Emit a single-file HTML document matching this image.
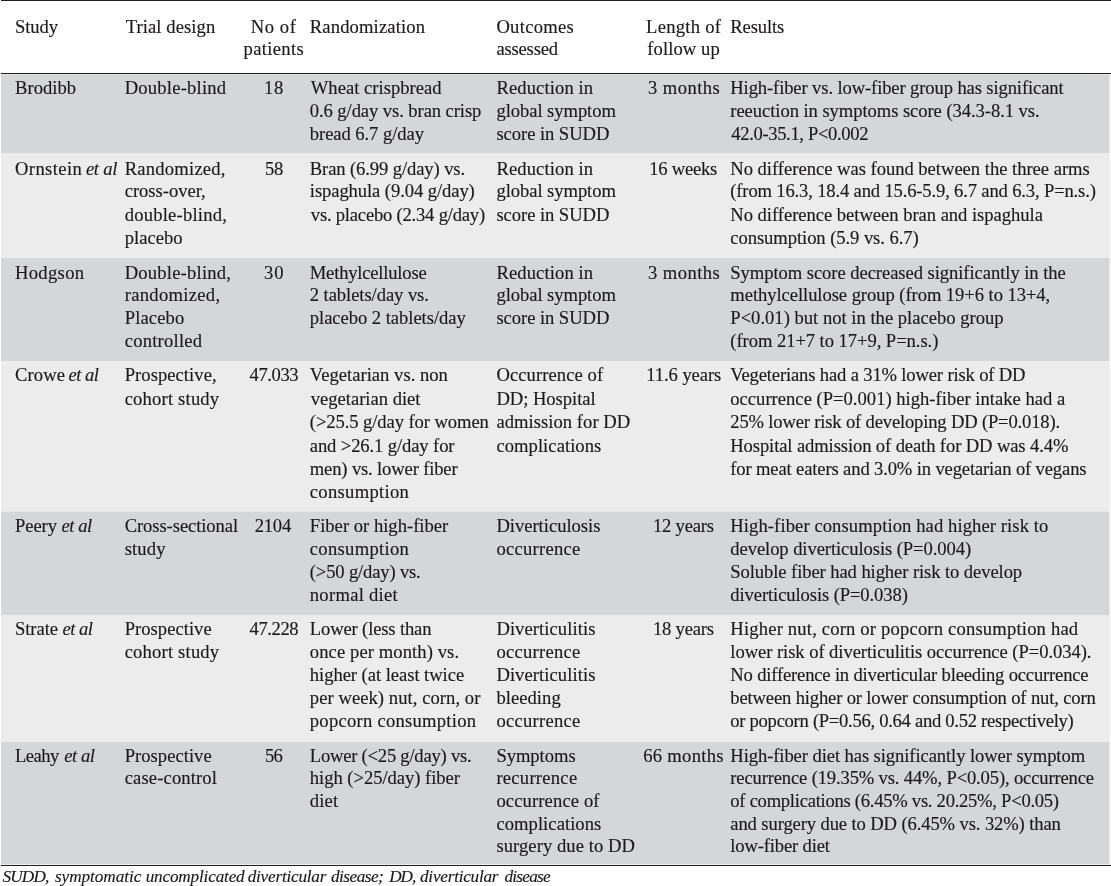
<!DOCTYPE html>
<html lang="en"><head><meta charset="utf-8"><title>Table</title>
<style>
html,body{margin:0;padding:0;background:#fff;}
body{width:1111px;height:886px;position:relative;overflow:hidden;font-family:"Liberation Serif",serif;color:#1c191a;}
.t{position:absolute;white-space:pre;line-height:24px;font-size:18.6px;font-kerning:normal;-webkit-text-stroke:0.15px #1c191a;}
.f{font-size:17.2px;font-style:italic;}
.i{font-style:italic;}
svg{position:absolute;left:0;top:0;}
#tx{position:absolute;left:0;top:0;width:1111px;height:886px;will-change:transform;}
</style></head><body>

<svg width="1111" height="886" viewBox="0 0 1111 886">
<rect x="1" y="74.3" width="1108.6" height="79.2" fill="#d5d6d8"/>
<rect x="1" y="153.5" width="1108.6" height="104.5" fill="#ececed"/>
<rect x="1" y="258" width="1108.6" height="103.10000000000002" fill="#d5d6d8"/>
<rect x="1" y="361.1" width="1108.6" height="150.39999999999998" fill="#ececed"/>
<rect x="1" y="511.5" width="1108.6" height="103.5" fill="#d5d6d8"/>
<rect x="1" y="615" width="1108.6" height="127" fill="#ececed"/>
<rect x="1" y="742" width="1108.6" height="122.39999999999998" fill="#d5d6d8"/>
<rect x="1" y="0" width="1110" height="1" fill="#231f20"/>
<rect x="1" y="73" width="1110" height="1" fill="#231f20"/>
<rect x="1" y="865" width="1110" height="1" fill="#231f20"/>
<rect x="1109.6" y="74" width="1" height="791" fill="#f0f0f1"/>
</svg>
<div id="tx">
<div class="t" style="left:15.0px;top:15px;letter-spacing:-0.1px">Study</div>
<div class="t" style="left:125.7px;top:15px;letter-spacing:0.082px">Trial design</div>
<div class="t" style="left:250.7px;top:15px;letter-spacing:0.6px">No of</div>
<div class="t" style="left:243.6px;top:37px;letter-spacing:0.329px">patients</div>
<div class="t" style="left:309.8px;top:15px;letter-spacing:0.133px">Randomization</div>
<div class="t" style="left:496.4px;top:15px;letter-spacing:0.286px">Outcomes</div>
<div class="t" style="left:496.4px;top:37px;letter-spacing:-0.186px">assessed</div>
<div class="t" style="left:646.1px;top:15px;letter-spacing:0.25px">Length of</div>
<div class="t" style="left:647.3px;top:37px;letter-spacing:0.088px">follow up</div>
<div class="t" style="left:730.3px;top:15px;letter-spacing:-0.15px">Results</div>
<div class="t" style="left:15.0px;top:76px;letter-spacing:0.017px">Brodibb</div>
<div class="t" style="left:15.0px;top:157px;letter-spacing:0.386px">Ornstein</div>
<div class="t i" style="left:85.9px;top:157px;letter-spacing:-0.275px">et al</div>
<div class="t" style="left:15.0px;top:261px;letter-spacing:0.317px">Hodgson</div>
<div class="t" style="left:15.0px;top:363px;letter-spacing:0.125px">Crowe</div>
<div class="t i" style="left:68.4px;top:363px;letter-spacing:-0.475px">et al</div>
<div class="t" style="left:15.0px;top:514px;letter-spacing:-0.1px">Peery</div>
<div class="t i" style="left:61.6px;top:514px;letter-spacing:-0.475px">et al</div>
<div class="t" style="left:15.0px;top:617px;letter-spacing:-0.08px">Strate</div>
<div class="t i" style="left:62.4px;top:617px;letter-spacing:-0.475px">et al</div>
<div class="t" style="left:15.0px;top:744px;letter-spacing:-0.55px">Leahy</div>
<div class="t i" style="left:64.3px;top:744px;letter-spacing:-0.475px">et al</div>
<div class="t" style="left:124.7px;top:76px;letter-spacing:0.209px">Double-blind</div>
<div class="t" style="left:124.7px;top:157px;letter-spacing:0.22px">Randomized,</div>
<div class="t" style="left:124.7px;top:179px;letter-spacing:-0.03px">cross-over,</div>
<div class="t" style="left:124.7px;top:203px;letter-spacing:0.208px">double-blind,</div>
<div class="t" style="left:124.7px;top:226px;letter-spacing:0.017px">placebo</div>
<div class="t" style="left:124.7px;top:261px;letter-spacing:0.2px">Double-blind,</div>
<div class="t" style="left:124.7px;top:283px;letter-spacing:0.3px">randomized,</div>
<div class="t" style="left:124.7px;top:306px;letter-spacing:0.117px">Placebo</div>
<div class="t" style="left:124.7px;top:329px;letter-spacing:0.222px">controlled</div>
<div class="t" style="left:124.7px;top:363px;letter-spacing:0.045px">Prospective,</div>
<div class="t" style="left:124.7px;top:387px;letter-spacing:0.182px">cohort study</div>
<div class="t" style="left:124.7px;top:514px;letter-spacing:-0.086px">Cross-sectional</div>
<div class="t" style="left:124.7px;top:537px;letter-spacing:0.125px">study</div>
<div class="t" style="left:124.7px;top:617px;letter-spacing:0.02px">Prospective</div>
<div class="t" style="left:124.7px;top:640px;letter-spacing:0.182px">cohort study</div>
<div class="t" style="left:124.7px;top:744px;letter-spacing:0.02px">Prospective</div>
<div class="t" style="left:124.7px;top:766px;letter-spacing:0.127px">case-control</div>
<div class="t" style="left:264.1px;top:76px;letter-spacing:0.6px">18</div>
<div class="t" style="left:265.1px;top:157px;letter-spacing:-0.4px">58</div>
<div class="t" style="left:264.1px;top:261px;letter-spacing:0.8px">30</div>
<div class="t" style="left:249.5px;top:363px;letter-spacing:-0.4px">47.033</div>
<div class="t" style="left:254.7px;top:514px;letter-spacing:-0.233px">2104</div>
<div class="t" style="left:249.5px;top:617px;letter-spacing:-0.4px">47.228</div>
<div class="t" style="left:265.0px;top:744px;letter-spacing:-0.9px">56</div>
<div class="t" style="left:310.8px;top:76px;letter-spacing:0.007px">Wheat crispbread</div>
<div class="t" style="left:309.8px;top:99px;letter-spacing:-0.083px">0.6 g/day vs. bran crisp</div>
<div class="t" style="left:309.8px;top:122px;letter-spacing:-0.071px">bread 6.7 g/day</div>
<div class="t" style="left:309.8px;top:157px;letter-spacing:-0.11px">Bran (6.99 g/day) vs.</div>
<div class="t" style="left:309.8px;top:179px;letter-spacing:-0.086px">ispaghula (9.04 g/day)</div>
<div class="t" style="left:310.8px;top:203px;letter-spacing:-0.213px">vs. placebo (2.34 g/day)</div>
<div class="t" style="left:309.8px;top:261px;letter-spacing:-0.207px">Methylcellulose</div>
<div class="t" style="left:309.8px;top:283px;letter-spacing:-0.075px">2 tablets/day vs.</div>
<div class="t" style="left:309.8px;top:306px;letter-spacing:-0.05px">placebo 2 tablets/day</div>
<div class="t" style="left:309.8px;top:363px;letter-spacing:0.012px">Vegetarian vs. non</div>
<div class="t" style="left:310.8px;top:387px;letter-spacing:-0.021px">vegetarian diet</div>
<div class="t" style="left:309.8px;top:410px;letter-spacing:-0.086px">(&gt;25.5 g/day for women</div>
<div class="t" style="left:309.8px;top:434px;letter-spacing:-0.117px">and &gt;26.1 g/day for</div>
<div class="t" style="left:309.8px;top:457px;letter-spacing:-0.153px">men) vs. lower fiber</div>
<div class="t" style="left:309.8px;top:480px;letter-spacing:0.29px">consumption</div>
<div class="t" style="left:309.8px;top:514px;letter-spacing:0.006px">Fiber or high-fiber</div>
<div class="t" style="left:309.8px;top:537px;letter-spacing:0.29px">consumption</div>
<div class="t" style="left:309.8px;top:560px;letter-spacing:-0.164px">(&gt;50 g/day) vs.</div>
<div class="t" style="left:309.8px;top:583px;letter-spacing:0.27px">normal diet</div>
<div class="t" style="left:309.8px;top:617px;letter-spacing:-0.147px">Lower (less than</div>
<div class="t" style="left:309.8px;top:640px;letter-spacing:0.089px">once per month) vs.</div>
<div class="t" style="left:309.8px;top:663px;letter-spacing:-0.048px">higher (at least twice</div>
<div class="t" style="left:309.8px;top:686px;letter-spacing:0.055px">per week) nut, corn, or</div>
<div class="t" style="left:309.8px;top:709px;letter-spacing:0.256px">popcorn consumption</div>
<div class="t" style="left:309.8px;top:744px;letter-spacing:-0.23px">Lower (&lt;25 g/day) vs.</div>
<div class="t" style="left:309.8px;top:766px;letter-spacing:-0.042px">high (&gt;25/day) fiber</div>
<div class="t" style="left:309.8px;top:789px;letter-spacing:0.167px">diet</div>
<div class="t" style="left:496.4px;top:76px;letter-spacing:0.109px">Reduction in</div>
<div class="t" style="left:496.4px;top:99px;letter-spacing:-0.062px">global symptom</div>
<div class="t" style="left:496.4px;top:122px;letter-spacing:-0.058px">score in SUDD</div>
<div class="t" style="left:496.4px;top:157px;letter-spacing:0.109px">Reduction in</div>
<div class="t" style="left:496.4px;top:179px;letter-spacing:-0.062px">global symptom</div>
<div class="t" style="left:496.4px;top:203px;letter-spacing:-0.058px">score in SUDD</div>
<div class="t" style="left:496.4px;top:261px;letter-spacing:0.109px">Reduction in</div>
<div class="t" style="left:496.4px;top:283px;letter-spacing:-0.062px">global symptom</div>
<div class="t" style="left:496.4px;top:306px;letter-spacing:-0.058px">score in SUDD</div>
<div class="t" style="left:496.4px;top:363px;letter-spacing:0.083px">Occurrence of</div>
<div class="t" style="left:496.4px;top:387px;letter-spacing:-0.036px">DD; Hospital</div>
<div class="t" style="left:496.4px;top:410px;letter-spacing:0.04px">admission for DD</div>
<div class="t" style="left:496.4px;top:434px;letter-spacing:0.05px">complications</div>
<div class="t" style="left:496.4px;top:514px;letter-spacing:-0.023px">Diverticulosis</div>
<div class="t" style="left:496.4px;top:537px;letter-spacing:0.256px">occurrence</div>
<div class="t" style="left:496.4px;top:617px;letter-spacing:0.069px">Diverticulitis</div>
<div class="t" style="left:496.4px;top:640px;letter-spacing:0.256px">occurrence</div>
<div class="t" style="left:496.4px;top:663px;letter-spacing:0.069px">Diverticulitis</div>
<div class="t" style="left:496.4px;top:686px;letter-spacing:0.043px">bleeding</div>
<div class="t" style="left:496.4px;top:709px;letter-spacing:0.256px">occurrence</div>
<div class="t" style="left:496.4px;top:744px;letter-spacing:-0.043px">Symptoms</div>
<div class="t" style="left:496.4px;top:766px;letter-spacing:0.256px">recurrence</div>
<div class="t" style="left:496.4px;top:789px;letter-spacing:0.125px">occurrence of</div>
<div class="t" style="left:496.4px;top:812px;letter-spacing:0.05px">complications</div>
<div class="t" style="left:496.4px;top:834px;letter-spacing:0.062px">surgery due to DD</div>
<div class="t" style="left:648.0px;top:76px;letter-spacing:0.443px">3 months</div>
<div class="t" style="left:649.3px;top:157px;letter-spacing:-0.243px">16 weeks</div>
<div class="t" style="left:648.0px;top:261px;letter-spacing:0.443px">3 months</div>
<div class="t" style="left:646.3px;top:363px;letter-spacing:-0.078px">11.6 years</div>
<div class="t" style="left:652.9px;top:514px;letter-spacing:-0.186px">12 years</div>
<div class="t" style="left:652.9px;top:617px;letter-spacing:-0.186px">18 years</div>
<div class="t" style="left:643.3px;top:744px;letter-spacing:0.275px">66 months</div>
<div class="t" style="left:730.3px;top:76px;letter-spacing:-0.12px">High-fiber vs. low-fiber group has significant</div>
<div class="t" style="left:730.3px;top:99px;letter-spacing:-0.065px">reeuction in symptoms score (34.3-8.1 vs.</div>
<div class="t" style="left:731.3px;top:122px;letter-spacing:-0.359px">42.0-35.1, P&lt;0.002</div>
<div class="t" style="left:730.3px;top:157px;letter-spacing:-0.024px">No difference was found between the three arms</div>
<div class="t" style="left:730.3px;top:179px;letter-spacing:-0.16px">(from 16.3, 18.4 and 15.6-5.9, 6.7 and 6.3, P=n.s.)</div>
<div class="t" style="left:730.3px;top:203px;letter-spacing:-0.036px">No difference between bran and ispaghula</div>
<div class="t" style="left:730.3px;top:226px;letter-spacing:-0.071px">consumption (5.9 vs. 6.7)</div>
<div class="t" style="left:730.3px;top:261px;letter-spacing:-0.065px">Symptom score decreased significantly in the</div>
<div class="t" style="left:730.3px;top:283px;letter-spacing:-0.065px">methylcellulose group (from 19+6 to 13+4,</div>
<div class="t" style="left:730.3px;top:306px;letter-spacing:0.0px">P&lt;0.01) but not in the placebo group</div>
<div class="t" style="left:730.3px;top:329px;letter-spacing:-0.062px">(from 21+7 to 17+9, P=n.s.)</div>
<div class="t" style="left:730.3px;top:363px;letter-spacing:-0.157px">Vegeterians had a 31% lower risk of DD</div>
<div class="t" style="left:730.3px;top:387px;letter-spacing:0.005px">occurrence (P=0.001) high-fiber intake had a</div>
<div class="t" style="left:730.3px;top:410px;letter-spacing:-0.173px">25% lower risk of developing DD (P=0.018).</div>
<div class="t" style="left:730.3px;top:434px;letter-spacing:-0.114px">Hospital admission of death for DD was 4.4%</div>
<div class="t" style="left:730.3px;top:457px;letter-spacing:-0.143px">for meat eaters and 3.0% in vegetarian of vegans</div>
<div class="t" style="left:730.3px;top:514px;letter-spacing:0.088px">High-fiber consumption had higher risk to</div>
<div class="t" style="left:730.3px;top:537px;letter-spacing:-0.084px">develop diverticulosis (P=0.004)</div>
<div class="t" style="left:730.3px;top:560px;letter-spacing:-0.09px">Soluble fiber had higher risk to develop</div>
<div class="t" style="left:730.3px;top:583px;letter-spacing:-0.1px">diverticulosis (P=0.038)</div>
<div class="t" style="left:730.3px;top:617px;letter-spacing:0.179px">Higher nut, corn or popcorn consumption had</div>
<div class="t" style="left:730.3px;top:640px;letter-spacing:-0.061px">lower risk of diverticulitis occurrence (P=0.034).</div>
<div class="t" style="left:730.3px;top:663px;letter-spacing:-0.175px">No difference in diverticular bleeding occurrence</div>
<div class="t" style="left:730.3px;top:686px;letter-spacing:-0.157px">between higher or lower consumption of nut, corn</div>
<div class="t" style="left:730.3px;top:709px;letter-spacing:-0.283px">or popcorn (P=0.56, 0.64 and 0.52 respectively)</div>
<div class="t" style="left:730.3px;top:744px;letter-spacing:-0.089px">High-fiber diet has significantly lower symptom</div>
<div class="t" style="left:730.3px;top:766px;letter-spacing:-0.154px">recurrence (19.35% vs. 44%, P&lt;0.05), occurrence</div>
<div class="t" style="left:730.3px;top:789px;letter-spacing:-0.267px">of complications (6.45% vs. 20.25%, P&lt;0.05)</div>
<div class="t" style="left:730.3px;top:812px;letter-spacing:-0.115px">and surgery due to DD (6.45% vs. 32%) than</div>
<div class="t" style="left:730.3px;top:834px;letter-spacing:-0.162px">low-fiber diet</div>
<div class="t f" style="left:2.4px;top:865px;letter-spacing:-0.775px">SUDD,</div>
<div class="t f" style="left:54.9px;top:865px;letter-spacing:-0.04px">symptomatic</div>
<div class="t f" style="left:145.7px;top:865px;letter-spacing:-0.183px">uncomplicated</div>
<div class="t f" style="left:247.7px;top:865px;letter-spacing:-0.218px">diverticular</div>
<div class="t f" style="left:330.9px;top:865px;letter-spacing:-0.486px">disease;</div>
<div class="t f" style="left:389.2px;top:865px;letter-spacing:-1.05px">DD,</div>
<div class="t f" style="left:420.0px;top:865px;letter-spacing:-0.236px">diverticular</div>
<div class="t f" style="left:504.4px;top:865px;letter-spacing:-0.733px">disease</div>
</div>
</body></html>
